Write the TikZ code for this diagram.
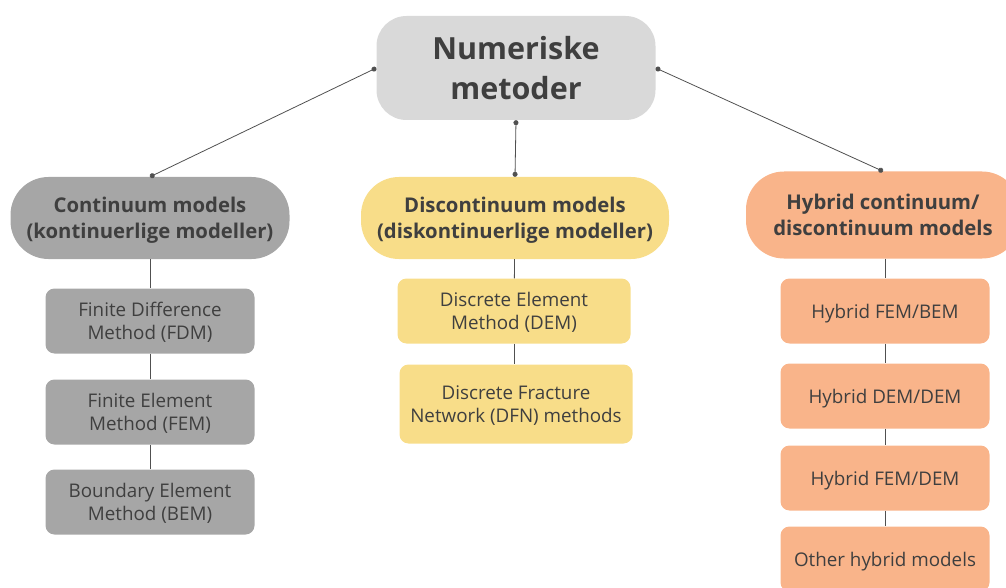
\documentclass[tikz,border=0pt]{standalone}
\usepackage{fontspec}
\setmainfont{Open Sans}
\usepackage{tikz}
\usetikzlibrary{arrows.meta}
\usepackage{xcolor}

\definecolor{rootgray}{HTML}{D9D9D9}
\definecolor{contgray}{HTML}{A6A6A6}
\definecolor{discyellow}{HTML}{F8DD89}
\definecolor{hyborange}{HTML}{F9B48A}
\definecolor{inktext}{HTML}{3F3F3F}
\definecolor{linkgray}{HTML}{505050}

\begin{document}
\begin{tikzpicture}[
        x=1pt, y=-1pt,
        every node/.style={text=inktext, align=center, inner sep=0pt},
        rootbox/.style={fill=rootgray, rounded corners=30pt, minimum width=279pt, minimum height=104pt,
            font=\fontsize{30.5}{40}\selectfont\bfseries},
        groupbox/.style={rounded corners=38pt, minimum height=82pt, text depth=0pt,
            font=\fontsize{20.3}{26}\selectfont\bfseries},
        itembox/.style={rounded corners=9pt, minimum width=209pt, minimum height=65pt, text depth=0pt,
            font=\fontsize{18.8}{22.5}\selectfont},
        link/.style={{Circle[length=5pt]}-{Circle[length=5pt]}, draw=linkgray, thick},
        stem/.style={draw=linkgray, thick}
    ]

    \useasboundingbox (0,0) rectangle (1006,588);

    \node[rootbox] (root) at (516,68) {Numeriske\\metoder};

    % the three families
    \node[groupbox, fill=contgray, minimum width=279pt] (cont) at (150,218)
        {Continuum models\\(kontinuerlige modeller)};
    \node[groupbox, fill=discyellow, minimum width=308pt] (disc) at (515,218)
        {Discontinuum models\\(diskontinuerlige modeller)};
    \node[groupbox, fill=hyborange, minimum width=274pt, minimum height=87pt] (hyb) at (883,215)
        {Hybrid continuum/\\discontinuum models};

    \draw[link] (root.west) -- (cont.north);
    \draw[link] (root.south) -- (disc.north);
    \draw[link] (root.east) -- (hyb.north);

    % continuum methods
    \node[itembox, fill=contgray] (fdm) at (150,321) {Finite Difference\\Method (FDM)};
    \node[itembox, fill=contgray] (fem) at (150,412) {Finite Element\\Method (FEM)};
    \node[itembox, fill=contgray] (bem) at (150,502) {Boundary Element\\Method (BEM)};

    \draw[stem] (cont) -- (fdm);
    \draw[stem] (fdm) -- (fem);
    \draw[stem] (fem) -- (bem);

    % discontinuum methods
    \node[itembox, fill=discyellow, minimum width=233pt] (dem) at (514,311)
        {Discrete Element\\Method (DEM)};
    \node[itembox, fill=discyellow, minimum width=233pt, minimum height=79pt] (dfn) at (516,404)
        {Discrete Fracture\\Network (DFN) methods};

    \draw[stem] (disc) -- (dem);
    \draw[stem] (dem.south) -- (dem.south |- dfn.north);

    % hybrid methods
    \node[itembox, fill=hyborange] (hfb) at (885,311) {Hybrid FEM/BEM};
    \node[itembox, fill=hyborange] (hdd) at (885,396) {Hybrid DEM/DEM};
    \node[itembox, fill=hyborange] (hfd) at (885,478) {Hybrid FEM/DEM};
    \node[itembox, fill=hyborange] (oth) at (885,559) {Other hybrid models};

    \draw[stem] (hyb.south -| hfb.north) -- (hfb);
    \draw[stem] (hfb) -- (hdd);
    \draw[stem] (hdd) -- (hfd);
    \draw[stem] (hfd) -- (oth);

\end{tikzpicture}
\end{document}
